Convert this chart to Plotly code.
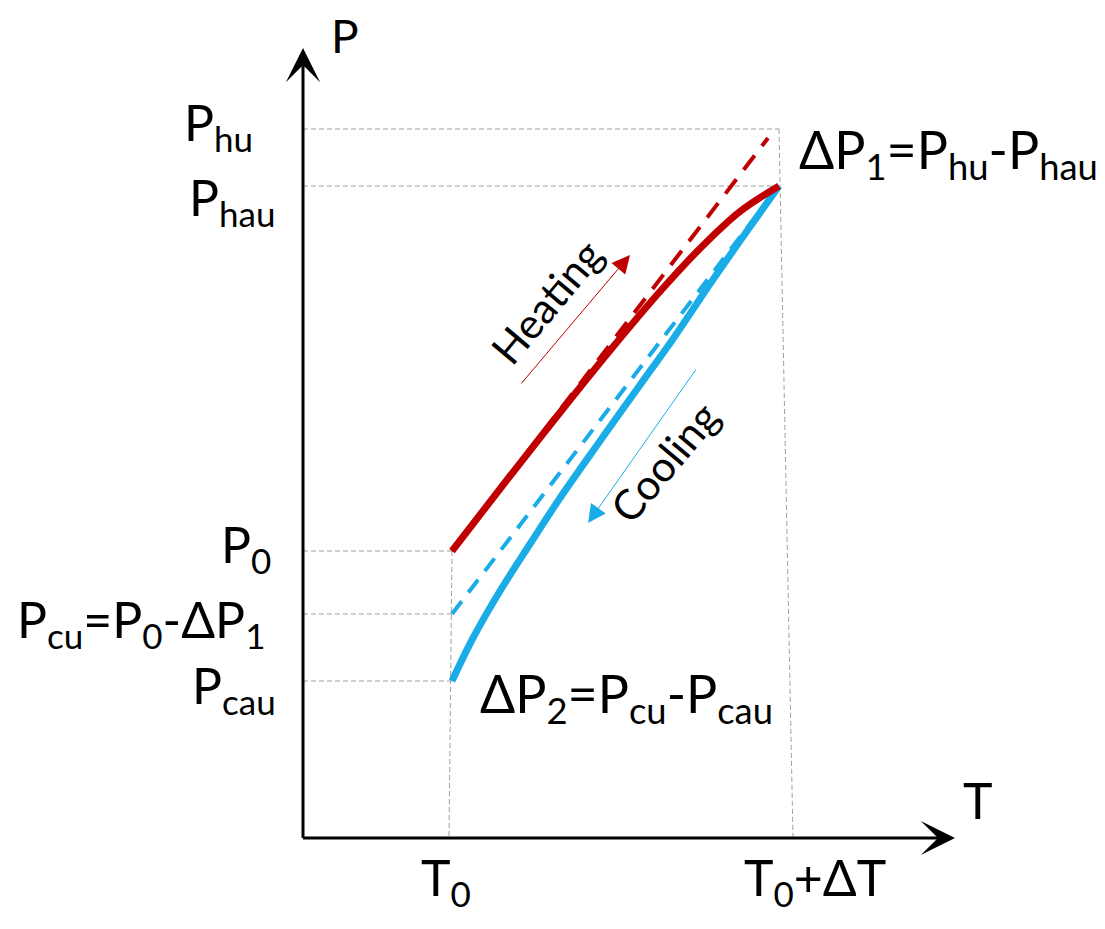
import plotly.graph_objects as go

# ---- key levels (data units) ----
T0 = 2.98
T_END = 9.52          # curve end / T0+dT at top
T_END_BOTTOM = 9.80   # guide line foot (image slightly skewed)
P_HU = 14.18
P_HAU = 13.04
P_0 = 5.74
P_CU = 4.48
P_CAU = 3.14
Y_AXIS_TOP = 15.8
X_AXIS_END = 13.04

# ---- curves ----
heat_T = [2.98, 4.14, 5.14, 6.14, 7.14, 7.94, 8.74, 9.52]
heat_P = [5.74, 7.24, 8.51, 9.75, 10.93, 11.79, 12.53, 13.04]

heat_lin_T = [2.98, 9.30]
heat_lin_P = [5.74, 14.00]

cool_T = [2.98, 3.40, 3.94, 4.54, 5.14, 5.94, 6.74, 7.40, 8.14, 8.88, 9.52]
cool_P = [3.14, 4.00, 4.94, 5.88, 6.80, 7.94, 9.06, 9.98, 11.08, 12.14, 13.04]

cool_lin_T = [2.98, 9.52]
cool_lin_P = [4.48, 13.04]

# ---- direction arrows (tail, tip) ----
heat_arrow_T = [4.34, 6.54]
heat_arrow_P = [9.06, 11.66]
cool_arrow_T = [7.88, 5.70]
cool_arrow_P = [9.40, 6.30]

RED = "#C00000"
BLUE = "#1AACE6"
GUIDE = "#A0A0A0"
FONT = "Lato"

fig = go.Figure()

def guide(x, y):
    fig.add_trace(go.Scatter(x=x, y=y, mode="lines", hoverinfo="skip",
                             line=dict(color=GUIDE, width=1, dash="5px,3px")))

guide([0, T_END], [P_HU, P_HU])
guide([0, T_END], [P_HAU, P_HAU])
guide([T_END, T_END_BOTTOM], [P_HU, 0])
guide([0, T0], [P_0, P_0])
guide([0, T0], [P_CU, P_CU])
guide([0, T0], [P_CAU, P_CAU])
guide([T0, T0 - 0.06], [P_0, 0])

fig.add_trace(go.Scatter(x=cool_lin_T, y=cool_lin_P, mode="lines",
                         line=dict(color=BLUE, width=4, dash="16px,11px")))
fig.add_trace(go.Scatter(x=heat_lin_T, y=heat_lin_P, mode="lines",
                         line=dict(color=RED, width=4, dash="18px,12px")))
fig.add_trace(go.Scatter(x=cool_T, y=cool_P, mode="lines", line_shape="spline",
                         line=dict(color=BLUE, width=7)))
fig.add_trace(go.Scatter(x=heat_T, y=heat_P, mode="lines", line_shape="spline",
                         line=dict(color=RED, width=7)))

ann = []

def arrow(x0, y0, x1, y1, color, width, head, size):
    ann.append(dict(x=x1, y=y1, ax=x0, ay=y0, xref="x", yref="y", axref="x", ayref="y",
                    text="", showarrow=True, arrowhead=head, arrowsize=size,
                    arrowwidth=width, arrowcolor=color, standoff=0, startstandoff=0))

# axes
arrow(0, -0.03, 0, Y_AXIS_TOP, "black", 3, 3, 1.9)
arrow(-0.03, 0, X_AXIS_END, 0, "black", 3, 3, 1.9)
# heating / cooling
arrow(heat_arrow_T[0], heat_arrow_P[0], heat_arrow_T[1], heat_arrow_P[1], RED, 1, 2, 3.6)
arrow(cool_arrow_T[0], cool_arrow_P[0], cool_arrow_T[1], cool_arrow_P[1], BLUE, 1, 2, 3.6)

def label(x, y, text, size=50, xanchor="center", yanchor="middle", angle=0):
    ann.append(dict(x=x, y=y, xref="x", yref="y", text=text, showarrow=False,
                    xanchor=xanchor, yanchor=yanchor, textangle=angle,
                    font=dict(family=FONT, size=size, color="black")))

label(0.84, 16.06, "P", size=46)
label(13.5, 0.76, "T")
label(2.86, -0.84, "T<sub>0</sub>")
label(10.24, -0.84, "T<sub>0</sub>+ΔT")

label(-0.96, 14.26, "P<sub>hu</sub>", xanchor="right")
label(-0.52, 12.76, "P<sub>hau</sub>", xanchor="right")
label(-0.60, 5.82, "P<sub>0</sub>", xanchor="right")
label(-0.72, 4.32, "P<sub>cu</sub>=P<sub>0</sub>-ΔP<sub>1</sub>", xanchor="right")
label(-0.50, 3.00, "P<sub>cau</sub>", xanchor="right")

label(9.88, 13.7, "ΔP<sub>1</sub>=P<sub>hu</sub>-P<sub>hau</sub>", size=52, xanchor="left")
label(3.50, 2.82, "ΔP<sub>2</sub>=P<sub>cu</sub>-P<sub>cau</sub>", size=52, xanchor="left")

label(4.86, 10.72, "Heating", size=42, angle=-50)
label(7.22, 7.52, "Cooling", size=42, angle=-50)

fig.update_layout(
    width=1097, height=921,
    margin=dict(l=0, r=0, t=0, b=0),
    paper_bgcolor="white", plot_bgcolor="white",
    showlegend=False,
    xaxis=dict(range=[-5.90, 16.04], visible=False, fixedrange=True),
    yaxis=dict(range=[-1.82, 16.60], visible=False, fixedrange=True),
    annotations=ann,
)

fig.write_html("out.html")
